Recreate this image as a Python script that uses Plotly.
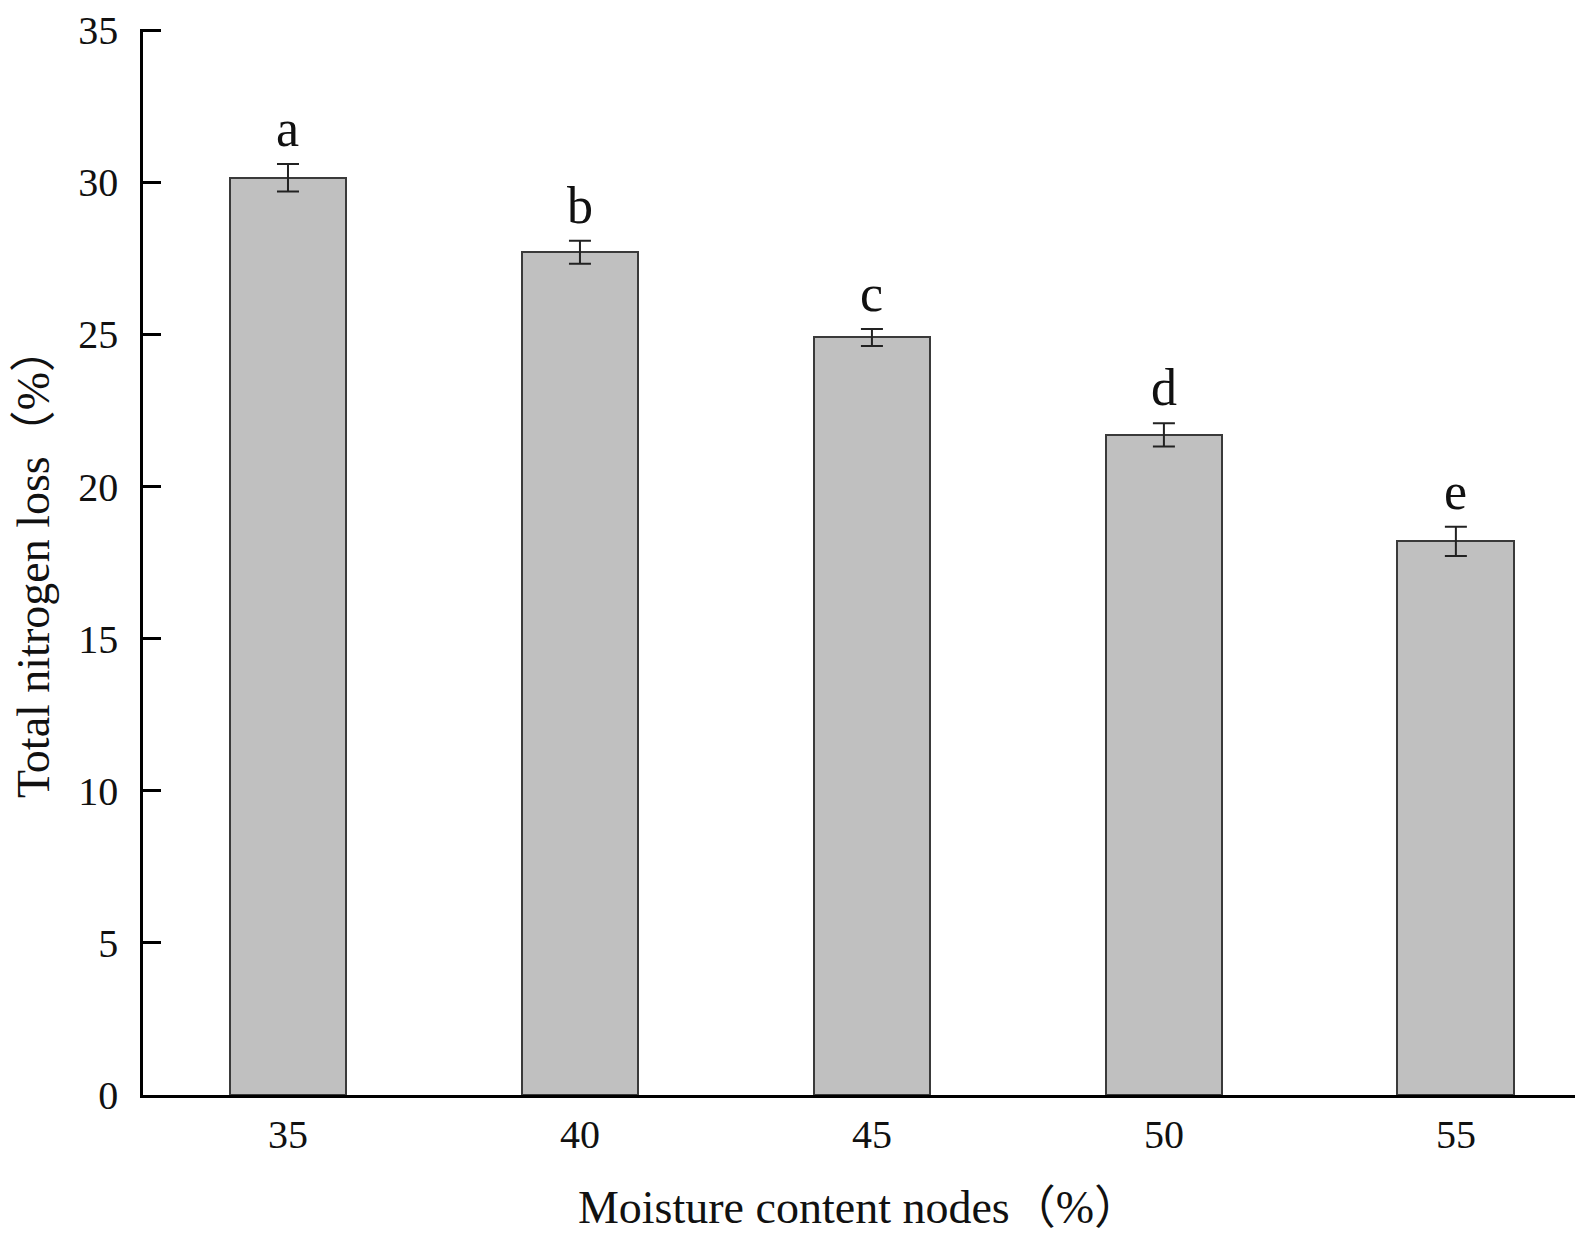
import plotly.graph_objects as go

moisture = [35, 40, 45, 50, 55]
nitrogen_loss = [30.15, 27.7, 24.9, 21.7, 18.2]
error = [0.45, 0.38, 0.28, 0.38, 0.48]
letters = ["a", "b", "c", "d", "e"]
y_ticks = [0, 5, 10, 15, 20, 25, 30, 35]

SERIF = "Liberation Serif, Times New Roman, Noto Sans CJK SC, serif"

fig = go.Figure()
fig.add_trace(go.Bar(
    x=moisture, y=nitrogen_loss, width=2.0,
    marker=dict(color="#c0c0c0", line=dict(color="#3a3a3a", width=2)),
    error_y=dict(type="data", array=error, visible=True, color="#222222",
                 thickness=2, width=11),
    showlegend=False,
))

for xv, yv, e, lab in zip(moisture, nitrogen_loss, error, letters):
    fig.add_annotation(x=xv, y=yv + e, text=lab, showarrow=False,
                       yanchor="bottom", yshift=5,
                       font=dict(family=SERIF, size=52, color="#111111"))

# page body has an 8px default margin, so the figure is sized to fit inside it
fig.update_layout(
    width=1582, height=1230,
    margin=dict(l=135, r=15, t=21, b=143, autoexpand=False),
    plot_bgcolor="white", paper_bgcolor="white",
    bargap=0,
)
fig.update_xaxes(
    range=[32.517, 57.04], tickmode="array", tickvals=moisture,
    ticktext=[str(m) for m in moisture],
    showline=True, linecolor="black", linewidth=2.5,
    ticks="", showgrid=False, zeroline=False, automargin=False,
    tickfont=dict(family=SERIF, size=40, color="#111111"),
    ticklabelstandoff=2,
    title=dict(text="Moisture content nodes（%）",
               font=dict(family=SERIF, size=46, color="#111111"), standoff=36),
)
fig.update_yaxes(
    range=[0, 35.04], tickmode="array", tickvals=y_ticks,
    showline=True, linecolor="black", linewidth=2.5,
    ticks="inside", ticklen=18, tickwidth=2.5, tickcolor="black",
    showgrid=False, zeroline=False, automargin=False,
    tickfont=dict(family=SERIF, size=40, color="#111111"),
    ticklabelstandoff=14, ticklabeloverflow="allow",
    title=dict(text="Total nitrogen loss（%）",
               font=dict(family=SERIF, size=46, color="#111111"), standoff=17),
)

fig.write_html("out.html")
